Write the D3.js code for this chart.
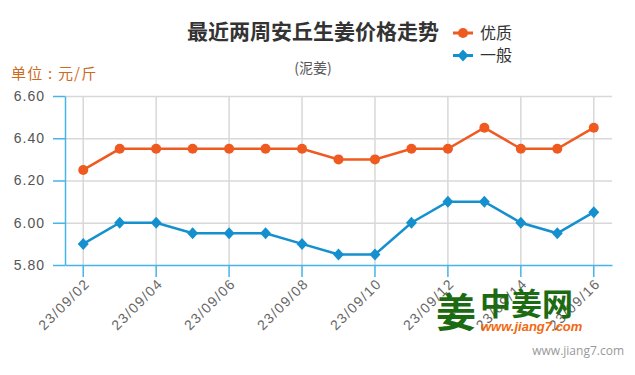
<!DOCTYPE html>
<html>
<head>
<meta charset="utf-8">
<script src="https://cdn.jsdelivr.net/npm/d3@7"></script>
<style>
  body { margin: 0; background: #fff; }
  svg { display: block; font-family: "Open Sans", "Noto Sans CJK SC", sans-serif; }
</style>
</head>
<body>
<svg id="chart"></svg>
<script>
// dates on the x axis (yy/mm/dd)
var dates = ["23/09/02", "23/09/03", "23/09/04", "23/09/05", "23/09/06", "23/09/07", "23/09/08",
             "23/09/09", "23/09/10", "23/09/11", "23/09/12", "23/09/13", "23/09/14", "23/09/15", "23/09/16"]
// 优质 prices
var goodPrices = [6.25, 6.35, 6.35, 6.35, 6.35, 6.35, 6.35, 6.30, 6.30, 6.35, 6.35, 6.45, 6.35, 6.35, 6.45]
// 一般 prices
var normalPrices = [5.90, 6.00, 6.00, 5.95, 5.95, 5.95, 5.90, 5.85, 5.85, 6.00, 6.10, 6.10, 6.00, 5.95, 6.05]
var yTicks = [5.8, 6.0, 6.2, 6.4, 6.6]
var seriesNames = ["优质", "一般"]

var dimensions = {
    width: 635,
    height: 375,
    margin: { top: 96, bottom: 110, left: 65, right: 23 }
}

var orange = "#ef5a21"
var blue = "#1590cf"
var axisBlue = "#45b4e6"
var gridGray = "#d8d8d8"

var svg = d3.select("#chart")
            .attr("width", dimensions.width)
            .attr("height", dimensions.height)

var xScale = d3.scaleBand()
                .domain(dates)
                .range([dimensions.margin.left, dimensions.width - dimensions.margin.right])
var cx = d => xScale(d) + xScale.bandwidth() / 2

var yScale = d3.scaleLinear()
                .domain([5.8, 6.6])
                .range([dimensions.height - dimensions.margin.bottom, dimensions.margin.top])

var bottom = dimensions.height - dimensions.margin.bottom
var shownDates = dates.filter((d, i) => i % 2 == 0)

//grid lines
svg.append("g")
    .selectAll("line.h")
    .data(yTicks.slice(1))
    .enter().append("line")
    .attr("x1", dimensions.margin.left)
    .attr("x2", dimensions.width - dimensions.margin.right)
    .attr("y1", d => yScale(d) + 0.5)
    .attr("y2", d => yScale(d) + 0.5)
    .attr("stroke", gridGray)
    .attr("stroke-width", 1.5)

svg.append("g")
    .selectAll("line.v")
    .data(shownDates)
    .enter().append("line")
    .attr("x1", d => cx(d))
    .attr("x2", d => cx(d))
    .attr("y1", dimensions.margin.top)
    .attr("y2", bottom)
    .attr("stroke", gridGray)
    .attr("stroke-width", 1.5)

//axes
var yAxis = svg.append("g")
    .attr("transform", `translate(${dimensions.margin.left},0)`)
    .call(d3.axisLeft(yScale).tickValues(yTicks).tickFormat(d3.format(".2f")).tickSize(12).tickSizeOuter(0).tickPadding(8))
var xAxis = svg.append("g")
    .attr("transform", `translate(0,${bottom})`)
    .call(d3.axisBottom(xScale).tickValues(shownDates).tickSize(12).tickSizeOuter(0))

svg.selectAll(".domain, .tick line").attr("stroke", axisBlue).attr("stroke-width", 1.5)
yAxis.selectAll("text")
    .attr("fill", "#555")
    .style("font-size", "14px")
    .style("letter-spacing", "1px")
xAxis.selectAll("text")
    .attr("fill", "#666")
    .style("font-size", "14px")
    .style("letter-spacing", "1.4px")
    .attr("text-anchor", "end")
    .attr("dy", "0.35em")
    .attr("transform", "translate(4,16) rotate(-45)")
    .attr("y", 0)

//lines + markers
var line = d3.line()
    .x((d, i) => cx(dates[i]))
    .y(d => yScale(d))

svg.append("path")
    .datum(goodPrices)
    .attr("fill", "none")
    .attr("stroke", orange)
    .attr("stroke-width", 2.5)
    .attr("d", line)

svg.append("path")
    .datum(normalPrices)
    .attr("fill", "none")
    .attr("stroke", blue)
    .attr("stroke-width", 2.5)
    .attr("d", line)

var diamond = "M0,-6L5.5,0L0,6L-5.5,0Z"

svg.selectAll("circle.good")
    .data(goodPrices)
    .enter().append("circle")
    .attr("cx", (d, i) => cx(dates[i]))
    .attr("cy", d => yScale(d))
    .attr("r", 5)
    .attr("fill", orange)

svg.selectAll("path.normal")
    .data(normalPrices)
    .enter().append("path")
    .attr("d", diamond)
    .attr("transform", (d, i) => `translate(${cx(dates[i])},${yScale(d)})`)
    .attr("fill", blue)

//title, subtitle, unit
svg.append("text")
    .attr("x", 313).attr("y", 39)
    .attr("text-anchor", "middle")
    .attr("font-family", "Noto Sans CJK SC")
    .attr("font-weight", "bold")
    .attr("font-size", 21)
    .attr("fill", "#333")
    .text("最近两周安丘生姜价格走势")

svg.append("text")
    .attr("x", 313).attr("y", 73)
    .attr("text-anchor", "middle")
    .attr("font-family", "Noto Sans CJK SC")
    .attr("font-size", 14)
    .attr("fill", "#555")
    .text("(泥姜)")

svg.append("text")
    .attr("x", 11).attr("y", 79)
    .attr("font-family", "Noto Sans CJK SC")
    .attr("font-size", 15)
    .attr("letter-spacing", "1.2px")
    .attr("fill", "#cc6a1f")
    .text("单位 : 元/斤")

//legend
var legend = svg.append("g")
    .selectAll("g")
    .data(seriesNames)
    .enter().append("g")
    .attr("transform", (d, i) => `translate(453,${33 + i * 22.5})`)

legend.append("line")
    .attr("x1", 0).attr("x2", 20)
    .attr("stroke", (d, i) => i == 0 ? orange : blue)
    .attr("stroke-width", 3)
legend.append("path")
    .attr("d", (d, i) => i == 0 ? d3.symbol(d3.symbolCircle, 80)() : diamond)
    .attr("transform", "translate(10,0)")
    .attr("fill", (d, i) => i == 0 ? orange : blue)
legend.append("text")
    .attr("x", 27).attr("dy", "0.35em")
    .attr("font-family", "Noto Sans CJK SC")
    .attr("font-size", 16)
    .attr("fill", "#333")
    .text(d => d)

//watermark
var wm = svg.append("g").attr("font-family", "Noto Sans CJK SC")
wm.append("text")
    .attr("x", 436).attr("y", 327)
    .attr("font-size", 40).attr("font-weight", "bold")
    .attr("fill", "#1c6b12")
    .text("姜")
wm.append("text")
    .attr("x", 480).attr("y", 315)
    .attr("font-size", 31).attr("font-weight", "bold")
    .attr("fill", "#1c6b12")
    .text("中姜网")
wm.append("text")
    .attr("x", 481).attr("y", 331)
    .attr("font-family", "Liberation Sans")
    .attr("font-size", 13).attr("font-weight", "bold").attr("font-style", "italic")
    .attr("fill", "#f2690f")
    .text("www.jiang7.com")

svg.append("text")
    .attr("x", 624).attr("y", 355)
    .attr("text-anchor", "end")
    .attr("font-size", 12)
    .attr("fill", "#999")
    .text("www.jiang7.com")
</script>
</body>
</html>
